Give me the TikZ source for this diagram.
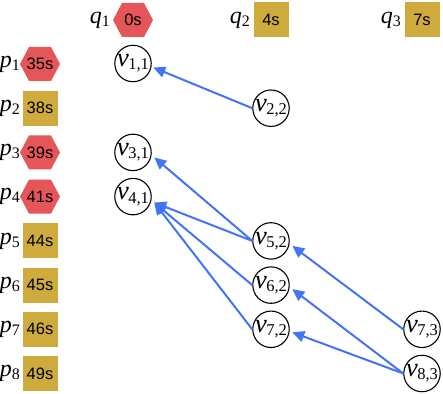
\documentclass[tikz,border=0pt]{standalone}
\usepackage{fontspec}
\setmainfont{Liberation Serif}
\newfontfamily\numfont{Liberation Sans}
\usetikzlibrary{arrows.meta}
\definecolor{hexred}{RGB}{228,86,90}
\definecolor{boxgold}{RGB}{207,170,60}
\definecolor{arrblue}{RGB}{66,116,245}
\newcommand{\lbl}[2]{{\fontsize{24}{24}\selectfont\itshape #1}\raisebox{-0.3em}{\fontsize{16}{16}\selectfont #2}}
\newcommand{\vlbl}[2]{{\fontsize{26.5}{26.5}\selectfont\itshape #1}\kern-0.5pt\raisebox{-0.32em}{\fontsize{16.5}{16.5}\selectfont #2}}
\newcommand{\hexat}[1]{\fill[hexred] (#1) ++(-20,0) -- ++(9,17) -- ++(22,0) -- ++(9,-17) -- ++(-9,-17) -- ++(-22,0) -- cycle;}
\begin{document}
\begin{tikzpicture}[x=1pt,y=-1pt,
  val/.style={inner sep=0pt,font=\numfont\fontsize{16.5}{16.5}\selectfont},
  sq/.style={val,fill=boxgold,minimum size=35pt},
  lab/.style={inner sep=0pt,anchor=east},
  vn/.style={draw,circle,line width=1.1pt,minimum size=35pt,inner sep=0pt},
  arr/.style={draw=arrblue,line width=2pt,-{Triangle[length=12pt,width=11pt]}}]
\useasboundingbox (0,0) rectangle (443,393);
% top row
\hexat{133,20}
\node[val] (q1v) at (133,20) {0s};
\node[lab] (q1) at (110,20) {\lbl{q}{1}};
\node[sq] (q2v) at (271,20) {4s};
\node[lab] (q2) at (250,20) {\lbl{q}{2}};
\node[sq] (q3v) at (422,20) {7s};
\node[lab] (q3) at (401,20) {\lbl{q}{3}};
% left column
\hexat{40,64}
\node[val] (p1v) at (40,64) {35s};
\node[sq] (p2v) at (40,108.2) {38s};
\hexat{40,152.4}
\node[val] (p3v) at (40,152.4) {39s};
\hexat{40,196.6}
\node[val] (p4v) at (40,196.6) {41s};
\node[sq] (p5v) at (40,240.9) {44s};
\node[sq] (p6v) at (40,285.1) {45s};
\node[sq] (p7v) at (40,329.3) {46s};
\node[sq] (p8v) at (40,373.5) {49s};
\node[lab] (p1) at (20,64) {\lbl{p}{1}};
\node[lab] (p2) at (20,108.2) {\lbl{p}{2}};
\node[lab] (p3) at (20,152.4) {\lbl{p}{3}};
\node[lab] (p4) at (20,196.6) {\lbl{p}{4}};
\node[lab] (p5) at (20,240.9) {\lbl{p}{5}};
\node[lab] (p6) at (20,285.1) {\lbl{p}{6}};
\node[lab] (p7) at (20,329.3) {\lbl{p}{7}};
\node[lab] (p8) at (20,373.5) {\lbl{p}{8}};
% v nodes
\node[vn] (v11) at (133,63.5) {\vlbl{v}{1,1}};
\node[vn] (v22) at (271,108.2) {\vlbl{v}{2,2}};
\node[vn] (v31) at (133,152.4) {\vlbl{v}{3,1}};
\node[vn] (v41) at (133,196.6) {\vlbl{v}{4,1}};
\node[vn] (v52) at (271,240.9) {\vlbl{v}{5,2}};
\node[vn] (v62) at (271,285.1) {\vlbl{v}{6,2}};
\node[vn] (v72) at (271,329.3) {\vlbl{v}{7,2}};
\node[vn] (v73) at (422,329.3) {\vlbl{v}{7,3}};
\node[vn] (v83) at (422,373.5) {\vlbl{v}{8,3}};
% edges
\draw[arr] (v22.west) -- ([shift={(1.5,4)}]v11.east);
\draw[arr] (v52.west) -- ([shift={(2.5,5)}]v31.east);
\draw[arr] (v52.west) -- ([shift={(2.5,6)}]v41.east);
\draw[arr] (v62.west) -- ([shift={(2.5,6)}]v41.east);
\draw[arr] (v72.west) -- ([shift={(2.5,6)}]v41.east);
\draw[arr] (v73.west) -- ([shift={(2.5,5)}]v52.east);
\draw[arr] (v83.west) -- ([shift={(2.5,4)}]v62.east);
\draw[arr] (v83.west) -- ([shift={(2.5,3)}]v72.east);
\end{tikzpicture}
\end{document}
